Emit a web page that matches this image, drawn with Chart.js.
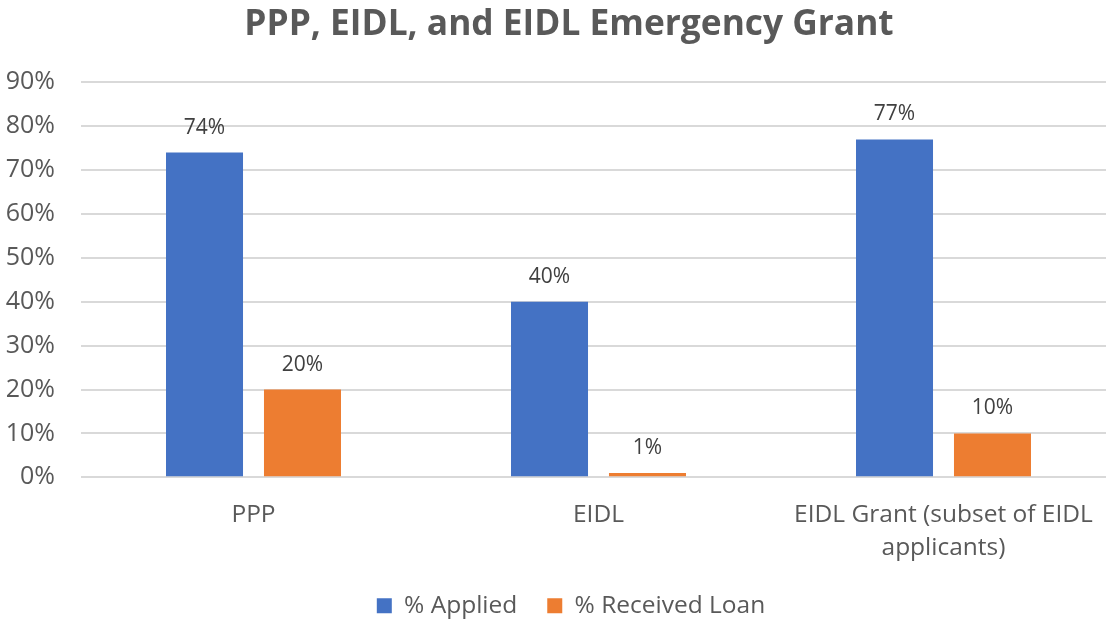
<!DOCTYPE html>
<html>
<head>
<meta charset="utf-8">
<script src="https://cdn.jsdelivr.net/npm/chart.js@4/dist/chart.umd.min.js"></script>
<style>
  html, body { margin: 0; padding: 0; background: #ffffff; overflow: hidden; width: 1106px; height: 622px; }
  #wrap { width: 1136px; height: 622px; }
</style>
</head>
<body>
<div id="wrap"><canvas id="c" width="1136" height="622"></canvas></div>
<script>
const titleText = 'PPP, EIDL, and EIDL Emergency Grant';
const categories = ['PPP', 'EIDL', ['EIDL Grant (subset of EIDL', 'applicants)']];
const seriesNames = ['% Applied', '% Received Loan'];
const appliedValues = [74, 40, 77];
const receivedValues = [20, 1, 10];
const yTickMin = 0;
const yTickMax = 90;
const yTickStep = 10;

const FONT = "'Open Sans', sans-serif";

const dataLabelPlugin = {
  id: 'dataLabels',
  afterDatasetsDraw(chart) {
    const ctx = chart.ctx;
    ctx.save();
    ctx.font = "21px " + FONT;
    ctx.fillStyle = '#404040';
    ctx.textAlign = 'center';
    ctx.textBaseline = 'middle';
    chart.data.datasets.forEach((ds, i) => {
      const meta = chart.getDatasetMeta(i);
      meta.data.forEach((el, j) => {
        ctx.fillText(ds.data[j] + '%', el.x, el.y - 25);
      });
    });
    ctx.restore();
  }
};

// Centre title and legend on the full (uncropped) chart width
const shiftPlugin = {
  id: 'shiftBlocks',
  afterLayout(chart) {
    if (chart.titleBlock) { chart.titleBlock.left += 11; chart.titleBlock.right += 11; }
    if (chart.legend) { chart.legend.left += 13; chart.legend.right += 13; }
  }
};

new Chart(document.getElementById('c'), {
  type: 'bar',
  data: {
    labels: categories,
    datasets: [
      { label: seriesNames[0], data: appliedValues, backgroundColor: '#4472C4', borderWidth: 0 },
      { label: seriesNames[1], data: receivedValues, backgroundColor: '#ED7D31', borderWidth: 0 }
    ]
  },
  options: {
    responsive: false,
    animation: false,
    devicePixelRatio: 1,
    layout: { padding: { left: 0, right: 20, top: 0, bottom: -6 } },
    datasets: { bar: { categoryPercentage: 0.568, barPercentage: 0.786 } },
    plugins: {
      title: {
        display: true,
        text: titleText,
        color: '#595959',
        font: { family: FONT, size: 35.3, weight: 'bold' },
        padding: { top: 4, bottom: 36 }
      },
      legend: {
        position: 'bottom',
        labels: {
          color: '#595959',
          font: { family: FONT, size: 24.5 },
          boxWidth: 15,
          boxHeight: 15,
          padding: 30
        }
      },
      tooltip: { enabled: false }
    },
    scales: {
      x: {
        grid: { display: false, drawTicks: false },
        border: { display: false },
        ticks: {
          color: '#595959',
          font: { family: FONT, size: 24.5, lineHeight: 1.35 },
          padding: 21,
          maxRotation: 0,
          autoSkip: false
        },
        afterFit(scale) { scale.height = scale.height - 22; }
      },
      y: {
        min: yTickMin,
        max: yTickMax,
        grid: { color: '#d9d9d9', lineWidth: 2, drawTicks: false },
        border: { display: false },
        ticks: {
          stepSize: yTickStep,
          color: '#595959',
          font: { family: FONT, size: 25 },
          padding: 26,
          callback: v => v + '%'
        },
        afterFit(scale) { scale.width = 81; }
      }
    }
  },
  plugins: [dataLabelPlugin, shiftPlugin]
});
</script>
</body>
</html>
